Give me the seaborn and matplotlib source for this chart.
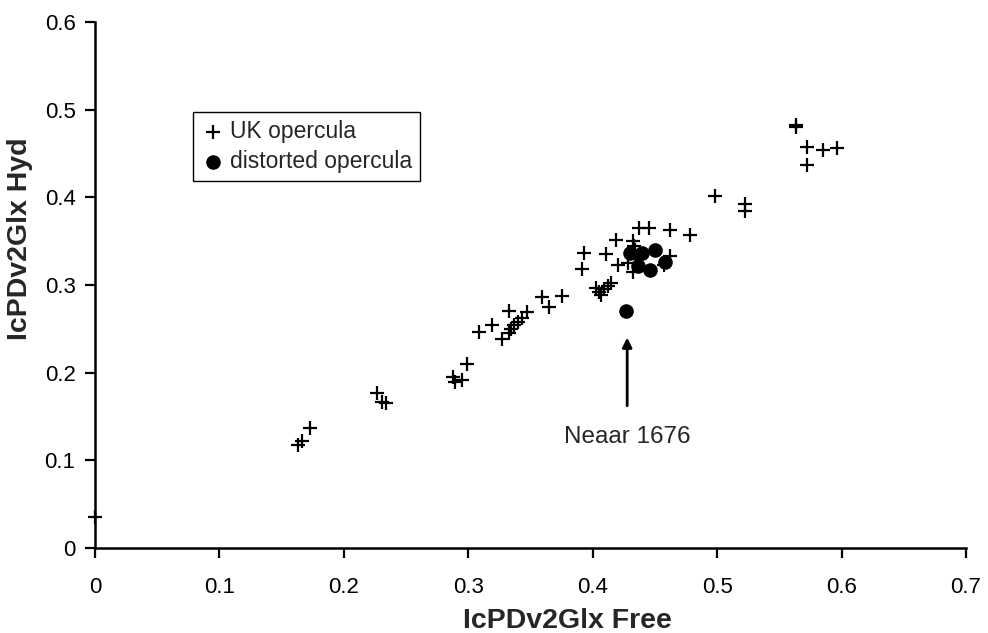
import matplotlib
matplotlib.use("Agg")
import matplotlib.pyplot as plt
import seaborn as sns

# UK opercula (crosses)
uk_free = [0.000,
           0.163, 0.166, 0.173,
           0.227, 0.231, 0.234,
           0.288, 0.289, 0.295, 0.299,
           0.309, 0.319, 0.327, 0.333,
           0.333, 0.334, 0.337, 0.340, 0.343, 0.347,
           0.359, 0.365, 0.375,
           0.391, 0.393,
           0.403, 0.405, 0.407, 0.409, 0.412, 0.415,
           0.411, 0.419, 0.420,
           0.437, 0.445, 0.462, 0.478,
           0.432, 0.433, 0.434, 0.431, 0.435, 0.432, 0.428,
           0.462, 0.457,
           0.498, 0.522, 0.522,
           0.563, 0.563, 0.572, 0.572, 0.585, 0.596]
uk_hyd = [0.035,
          0.117, 0.122, 0.137,
          0.177, 0.167, 0.165,
          0.195, 0.189, 0.192, 0.210,
          0.246, 0.254, 0.238, 0.270,
          0.245, 0.250, 0.254, 0.258, 0.262, 0.269,
          0.286, 0.275, 0.288,
          0.318, 0.337,
          0.297, 0.292, 0.289, 0.296, 0.299, 0.302,
          0.335, 0.351, 0.323,
          0.365, 0.365, 0.363, 0.357,
          0.350, 0.345, 0.340, 0.336, 0.330, 0.315, 0.325,
          0.333, 0.323,
          0.401, 0.392, 0.384,
          0.483, 0.480, 0.457, 0.437, 0.454, 0.456]

# distorted opercula (filled circles)
dist_free = [0.430, 0.440, 0.450, 0.436, 0.446, 0.458, 0.427]
dist_hyd = [0.336, 0.337, 0.340, 0.322, 0.317, 0.326, 0.270]

x_ticks = [0, 0.1, 0.2, 0.3, 0.4, 0.5, 0.6, 0.7]
x_labels = ["0", "0.1", "0.2", "0.3", "0.4", "0.5", "0.6", "0.7"]
y_ticks = [0, 0.1, 0.2, 0.3, 0.4, 0.5, 0.6]
y_labels = ["0", "0.1", "0.2", "0.3", "0.4", "0.5", "0.6"]

sns.set_style("ticks")
plt.rcParams["font.family"] = ["Liberation Sans", "DejaVu Sans"]

fig, ax = plt.subplots(figsize=(9.88, 6.33), dpi=100)
fig.subplots_adjust(left=0.0962, right=0.9777, top=0.9652, bottom=0.1343)

sns.scatterplot(x=uk_free, y=uk_hyd, marker="+", color="black", s=110,
                linewidth=1.6, label="UK opercula", ax=ax, zorder=3,
                clip_on=False)
sns.scatterplot(x=dist_free, y=dist_hyd, marker="o", color="black", s=110,
                edgecolor="black", linewidth=0, label="distorted opercula",
                ax=ax, zorder=4)

ax.set_xlim(0, 0.7)
ax.set_ylim(0, 0.6)
ax.set_xticks(x_ticks)
ax.set_xticklabels(x_labels)
ax.set_yticks(y_ticks)
ax.set_yticklabels(y_labels)
ax.tick_params(labelsize=16, length=7, width=1.6, direction="out",
               colors="black")
ax.tick_params(axis="y", pad=7)
ax.tick_params(axis="x", pad=14)
for s in ["left", "bottom"]:
    ax.spines[s].set_linewidth(1.8)
    ax.spines[s].set_color("black")
sns.despine(ax=ax)

ax.set_xlabel("IcPDv2Glx Free", fontsize=20.5, fontweight="bold")
ax.set_ylabel("IcPDv2Glx Hyd", fontsize=20.5, fontweight="bold")
ax.xaxis.label.set_va("baseline")
ax.xaxis.set_label_coords(0.542, -0.152)
ax.yaxis.set_label_coords(-0.071, 0.587)

leg = ax.legend(loc="upper left", bbox_to_anchor=(0.1125, 0.829),
                borderaxespad=0, fontsize=16.5, frameon=True, fancybox=False,
                framealpha=1, edgecolor="black", handletextpad=0.25,
                handlelength=1.0, labelspacing=0.3, borderpad=0.35)
leg.get_frame().set_linewidth(1.0)

ax.annotate("Neaar 1676", xy=(0.4277, 0.240), xytext=(0.4277, 0.127),
            ha="center", va="center", fontsize=17.5,
            arrowprops=dict(arrowstyle="-|>", color="black", lw=2,
                            shrinkA=12, shrinkB=0, mutation_scale=14))

fig.savefig("out.png", dpi=100)
